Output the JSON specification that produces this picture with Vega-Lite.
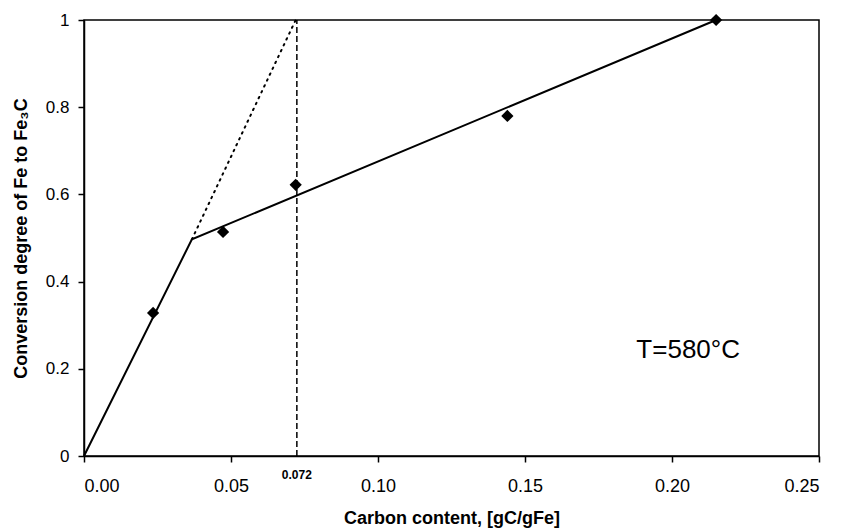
{
  "$schema": "https://vega.github.io/schema/vega-lite/v6.json",
  "width": 735,
  "height": 436,
  "autosize": {"type": "none"},
  "padding": {"left": 84, "top": 20, "right": 22, "bottom": 75},
  "background": "white",
  "config": {
    "font": "Liberation Sans",
    "view": {"stroke": "black", "strokeWidth": 1.5},
    "axis": {"grid": false, "domainColor": "black", "domainWidth": 1.5, "tickColor": "black", "tickWidth": 1.5, "tickSize": 6, "labelColor": "black", "labelFontSize": 18, "titleColor": "black", "titleFontWeight": "bold", "titleFontSize": 18, "labelFont": "Liberation Sans", "titleFont": "Liberation Sans"}
  },
  "datasets": {
    "points": [
      {"x": 0.0235, "y": 0.328},
      {"x": 0.0473, "y": 0.514},
      {"x": 0.072, "y": 0.622},
      {"x": 0.144, "y": 0.78},
      {"x": 0.215, "y": 1.0}
    ],
    "solid": [
      {"x": 0.0, "y": 0.0, "o": 0},
      {"x": 0.0367, "y": 0.497, "o": 1},
      {"x": 0.215, "y": 1.0, "o": 2}
    ],
    "dotted": [
      {"x": 0.0367, "y": 0.497, "o": 0},
      {"x": 0.072, "y": 1.0, "o": 1}
    ],
    "dashed": [
      {"x": 0.0724, "y": 0.0, "o": 0},
      {"x": 0.0724, "y": 1.0, "o": 1}
    ],
    "labels": [
      {"x": 0.0724, "y": 0.0, "t": "0.072"}
    ],
    "note": [
      {"x": 0.2055, "y": 0.243, "t": "T=580°C"}
    ]
  },
  "layer": [
    {
      "data": {"name": "dashed"},
      "mark": {"type": "line", "color": "black", "strokeWidth": 1.5, "strokeDash": [6, 3]},
      "encoding": {
        "x": {"field": "x", "type": "quantitative", "scale": {"domain": [0, 0.25], "nice": false}, "axis": {"values": [0, 0.05, 0.1, 0.15, 0.2, 0.25], "format": ".2f", "title": "Carbon content, [gC/gFe]", "labelPadding": 15, "titlePadding": 14}},
        "y": {"field": "y", "type": "quantitative", "scale": {"domain": [0, 1], "nice": false}, "axis": {"values": [0, 0.2, 0.4, 0.6, 0.8, 1], "format": "~g", "labelFontSize": 17, "title": "Conversion degree of Fe to Fe₃C", "labelPadding": 9, "titlePadding": 15}},
        "order": {"field": "o"}
      }
    },
    {
      "data": {"name": "dotted"},
      "mark": {"type": "line", "color": "black", "strokeWidth": 2, "strokeDash": [1.5, 5], "strokeCap": "round"},
      "encoding": {
        "x": {"field": "x", "type": "quantitative"},
        "y": {"field": "y", "type": "quantitative"},
        "order": {"field": "o"}
      }
    },
    {
      "data": {"name": "solid"},
      "mark": {"type": "line", "color": "black", "strokeWidth": 2},
      "encoding": {
        "x": {"field": "x", "type": "quantitative"},
        "y": {"field": "y", "type": "quantitative"},
        "order": {"field": "o"}
      }
    },
    {
      "data": {"name": "points"},
      "mark": {"type": "point", "shape": "diamond", "filled": true, "color": "black", "size": 150, "opacity": 1},
      "encoding": {
        "x": {"field": "x", "type": "quantitative"},
        "y": {"field": "y", "type": "quantitative"}
      }
    },
    {
      "data": {"name": "labels"},
      "mark": {"type": "text", "fontWeight": "bold", "fontSize": 12, "baseline": "top", "dy": 14, "clip": false, "color": "black"},
      "encoding": {
        "x": {"field": "x", "type": "quantitative"},
        "y": {"field": "y", "type": "quantitative"},
        "text": {"field": "t"}
      }
    },
    {
      "data": {"name": "note"},
      "mark": {"type": "text", "fontSize": 26, "baseline": "middle", "align": "center", "color": "black"},
      "encoding": {
        "x": {"field": "x", "type": "quantitative"},
        "y": {"field": "y", "type": "quantitative"},
        "text": {"field": "t"}
      }
    }
  ]
}
